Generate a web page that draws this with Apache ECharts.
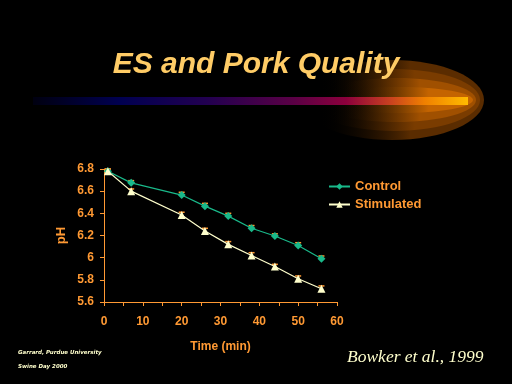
<!DOCTYPE html>
<html><head><meta charset="utf-8">
<script src="https://cdn.jsdelivr.net/npm/echarts@6/dist/echarts.min.js"></script>
<style>html,body{margin:0;padding:0;background:#000;}#c{width:512px;height:384px;}</style>
</head><body><div id="c"></div>
<script>
var times = [1, 7, 20, 26, 32, 38, 44, 50, 56];
var controlPH = [6.78, 6.675, 6.565, 6.465, 6.375, 6.265, 6.195, 6.11, 5.99];
var stimulatedPH = [6.78, 6.60, 6.385, 6.24, 6.12, 6.02, 5.92, 5.81, 5.72];
var errPH = [0.02, 0.02, 0.025, 0.025, 0.025, 0.025, 0.02, 0.025, 0.025];
var seriesNames = ['Control', 'Stimulated'];
var xTicks = [0, 10, 20, 30, 40, 50, 60];

var orange = '#ff9933';
var cream = '#ffffcc';
var green = '#19b98a';
var FONT = '"Liberation Sans", Arial, sans-serif';

function pairs(ys){ return times.map(function(t,i){ return [t, ys[i]]; }); }
function errData(ys){ return times.map(function(t,i){ return [t, ys[i], errPH[i]]; }); }

function errRender(params, api){
  var x = api.value(0), y = api.value(1), e = api.value(2);
  var p0 = api.coord([x, y]);
  var pt = api.coord([x, y + e]);
  return {type:'group', children:[
    {type:'line', shape:{x1:p0[0], y1:p0[1], x2:pt[0], y2:pt[1]}, style:{stroke:orange, lineWidth:1}},
    {type:'line', shape:{x1:pt[0]-3, y1:pt[1], x2:pt[0]+3, y2:pt[1]}, style:{stroke:orange, lineWidth:1.5}}
  ]};
}

var chart = echarts.init(document.getElementById('c'), null, {renderer:'canvas'});

function glowLayer(right, rx, ry, color, fadeStart, fadeEnd){
  return {type:'ellipse', z:1, shape:{cx:right - rx, cy:100, rx:rx, ry:ry},
    style:{fill:{type:'linear', x:0, y:0, x2:1, y2:0,
      colorStops:[{offset:0, color:'rgba(0,0,0,0)'},{offset:fadeStart, color:'rgba(0,0,0,0)'},
        {offset:fadeEnd, color:color},{offset:1, color:color}]}}, silent:true};
}

var option = {
  backgroundColor: '#000',
  animation: false,
  graphic: [
    glowLayer(484, 92, 40, '#5a2c00', 0.1, 0.6),
    glowLayer(480, 86, 31, '#7a3c00', 0.12, 0.62),
    glowLayer(476, 80, 22, '#a05000', 0.14, 0.65),
    glowLayer(473, 74, 13, '#c46400', 0.16, 0.7),
    {type:'rect', z:2, shape:{x:33, y:97, width:435, height:8},
      style:{fill:{type:'linear', x:0, y:0, x2:1, y2:0, colorStops:[
        {offset:0, color:'#000010'},{offset:0.2, color:'#000050'},{offset:0.4, color:'#220050'},
        {offset:0.6, color:'#5a0045'},{offset:0.72, color:'#8c003c'},{offset:0.82, color:'#c84020'},
        {offset:0.9, color:'#f08000'},{offset:1, color:'#ffbb00'}]}}, silent:true},
    {type:'text', z:3, x:256, y:65, style:{text:'ES and Pork Quality', fill:'#ffcc66',
      font:'italic bold 30px ' + FONT, align:'center', verticalAlign:'middle',
      textShadowColor:'rgba(70,35,0,0.9)', textShadowOffsetX:3, textShadowOffsetY:3, textShadowBlur:0}},
    {type:'text', z:3, x:18, y:353, style:{text:'Garrard, Purdue University', fill:cream,
      font:'italic bold 5.5px "DejaVu Sans", sans-serif', verticalAlign:'middle'}},
    {type:'text', z:3, x:18, y:367, style:{text:'Swine Day 2000', fill:cream,
      font:'italic bold 5.5px "DejaVu Sans", sans-serif', verticalAlign:'middle'}},
    {type:'text', z:3, x:347, y:357, style:{text:'Bowker et al., 1999', fill:cream,
      font:'italic 17.5px "Liberation Serif", "Times New Roman", serif', verticalAlign:'middle'}}
  ],
  grid: {left:104, right:175, top:169, bottom:82, containLabel:false},
  legend: {
    data: seriesNames, orient:'vertical', left:328, top:180, padding:0, itemGap:5, itemWidth:21, itemHeight:8,
    textStyle:{color:orange, fontWeight:'bold', fontSize:13, fontFamily:FONT}
  },
  xAxis: {
    type:'value', min:0, max:60, interval:5,
    name:'Time (min)', nameLocation:'middle', nameGap:39,
    nameTextStyle:{color:orange, fontWeight:'bold', fontSize:12, fontFamily:FONT},
    axisLine:{show:true, onZero:false, lineStyle:{color:orange, width:1}},
    axisTick:{show:true, length:4, lineStyle:{color:orange}},
    splitLine:{show:false},
    axisLabel:{color:orange, fontWeight:'bold', fontSize:12, margin:14, fontFamily:FONT,
      formatter:function(v){ return xTicks.indexOf(v) >= 0 ? String(v) : ''; }}
  },
  yAxis: {
    type:'value', min:5.6, max:6.8, interval:0.2,
    name:'pH', nameLocation:'middle', nameGap:36, nameRotate:90,
    nameTextStyle:{color:orange, fontWeight:'bold', fontSize:13, fontFamily:FONT},
    axisLine:{show:true, onZero:false, lineStyle:{color:orange, width:1}},
    axisTick:{show:true, length:4, lineStyle:{color:orange}},
    splitLine:{show:false},
    axisLabel:{color:orange, fontWeight:'bold', fontSize:12, margin:10, fontFamily:FONT,
      formatter:function(v){ return String(Math.round(v*10)/10); }}
  },
  series: [
    {name:'Control', type:'line', data:pairs(controlPH), symbol:'diamond', symbolSize:8,
      lineStyle:{color:green, width:1.2}, itemStyle:{color:green}, z:3},
    {name:'Stimulated', type:'line', data:pairs(stimulatedPH), symbol:'triangle', symbolSize:8,
      lineStyle:{color:cream, width:1.2}, itemStyle:{color:cream}, z:3},
    {type:'custom', renderItem:errRender, data:errData(controlPH), z:2, silent:true},
    {type:'custom', renderItem:errRender, data:errData(stimulatedPH), z:2, silent:true}
  ]
};
chart.setOption(option);
</script></body></html>
